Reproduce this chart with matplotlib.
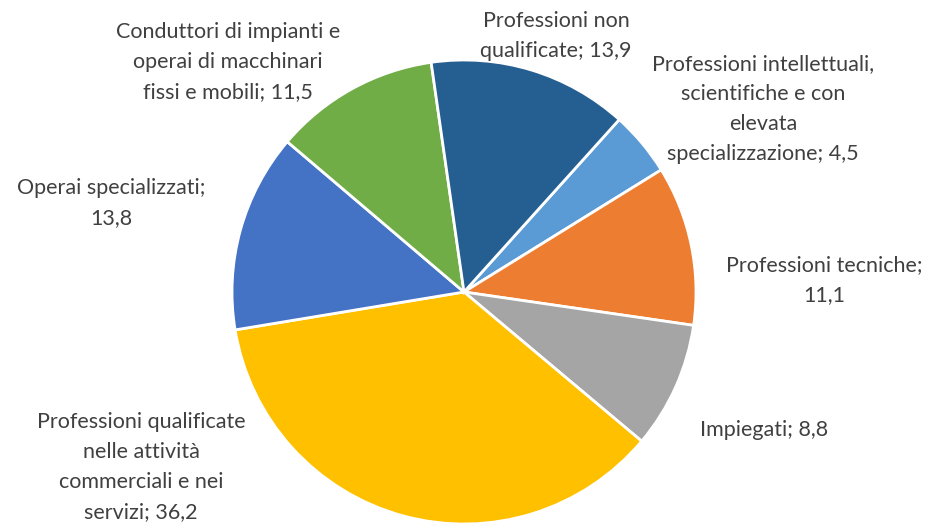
import matplotlib

matplotlib.use("Agg")
import matplotlib.pyplot as plt  # noqa: E402

# Occupati per grande gruppo professionale (%)
labels = [
    "Professioni intellettuali,\nscientifiche e con\nelevata\nspecializzazione",
    "Professioni tecniche;\n",
    "Impiegati",
    "Professioni qualificate\nnelle attività\ncommerciali e nei\nservizi",
    "Operai specializzati;\n",
    "Conduttori di impianti e\noperai di macchinari\nfissi e mobili",
    "Professioni non\nqualificate",
]
values = [4.5, 11.1, 8.8, 36.2, 13.8, 11.5, 13.9]
colors = ["#5B9BD5", "#ED7D31", "#A5A5A5", "#FFC000", "#4472C4", "#70AD47", "#255E91"]

# label block centres, in pixels from the top-left corner
label_pos = [(763, 109), (824, 280), (764, 430), (141, 467), (111, 203), (228, 62), (556, 36)]

W, H = 930, 523
TEXT = "#404040"

fig = plt.figure(figsize=(W / 100, H / 100), dpi=100)
ax = fig.add_axes([0, 0, 1, 1])

ax.pie(
    values,
    colors=colors,
    startangle=48,
    counterclock=False,
    center=(464, H - 292),
    radius=232,
    wedgeprops=dict(edgecolor="white", linewidth=2.0),
    frame=True,
)
ax.set_xlim(0, W)
ax.set_ylim(0, H)
ax.set_aspect("equal")
ax.axis("off")

for lab, v, (px, py) in zip(labels, values, label_pos):
    val = f"{v:.1f}".replace(".", ",")
    if lab.endswith("\n"):
        txt = lab + val
    else:
        txt = f"{lab}; {val}"
    ax.text(px, H - py, txt, ha="center", va="center", multialignment="center",
            fontsize=15.5, family="Lato", color=TEXT, linespacing=1.62)

fig.savefig("out.png", dpi=100)
